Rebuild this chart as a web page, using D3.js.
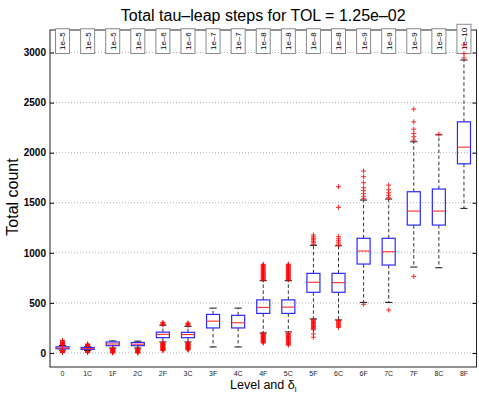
<!DOCTYPE html>
<html>
<head>
<meta charset="utf-8">
<script src="https://cdn.jsdelivr.net/npm/d3@7"></script>
<style>
body { margin: 0; background: #fff; }
svg { font-family: "Liberation Sans", Arial, Helvetica, sans-serif; }
</style>
</head>
<body>
<div id="chart"></div>
<script>
// values
var categories = ["0", "1C", "1F", "2C", "2F", "3C", "3F", "4C", "4F", "5C", "5F", "6C", "6F", "7C", "7F", "8C", "8F"];
var tolLabels = ["1e\u20135", "1e\u20135", "1e\u20135", "1e\u20135", "1e\u20136", "1e\u20136", "1e\u20137", "1e\u20137",
    "1e\u20138", "1e\u20138", "1e\u20138", "1e\u20138", "1e\u20139", "1e\u20139", "1e\u20139", "1e\u20139", "1e\u201310"];
var whiskerLow = [30, 25, 50, 50, 110, 110, 60, 60, 200, 210, 340, 330, 505, 505, 858, 851, 1444];
var quart1 = [42, 36, 73, 73, 153, 153, 250, 250, 395, 395, 606, 606, 888, 878, 1277, 1277, 1889];
var medians = [50, 43, 90, 88, 186, 184, 318, 302, 455, 458, 706, 702, 1018, 1011, 1417, 1417, 2055];
var quart3 = [62, 55, 110, 105, 208, 206, 385, 376, 530, 530, 795, 795, 1145, 1145, 1610, 1637, 2308];
var whiskerHigh = [75, 62, 120, 118, 277, 266, 448, 448, 722, 722, 1075, 1070, 1527, 1537, 2109, 2178, 2925];
var outliers = [
    [5, 10, 15, 18, 22, 25, 80, 85, 90, 95, 100, 105, 110, 118, 125],
    [5, 10, 14, 18, 68, 72, 76, 80, 85, 90],
    [0, 5, 10, 15, 20, 25, 30, 35, 40, 45],
    [0, 5, 10, 15, 20, 25, 30, 35, 40, 45],
    [25, 30, 35, 40, 45, 50, 55, 60, 65, 70, 75, 80, 85, 90, 95, 100, 282, 290, 298, 305],
    [30, 35, 40, 45, 50, 55, 60, 65, 70, 75, 80, 85, 90, 95, 100, 276, 284, 292, 300],
    [],
    [],
    [100, 106, 112, 118, 124, 130, 136, 142, 148, 154, 160, 166, 172, 178, 184, 190, 196,
        728, 735, 742, 750, 757, 765, 772, 780, 787, 795, 802, 810, 817, 825, 832, 840, 847, 855, 862, 870, 877, 885],
    [78, 86, 95, 104, 112, 120, 128, 136, 144, 150, 158, 165, 172, 180, 188, 195,
        730, 738, 745, 752, 760, 768, 775, 782, 790, 798, 805, 812, 820, 828, 835, 842, 850, 858, 865, 872, 880, 886],
    [157, 190, 232, 240, 248, 256, 264, 272, 280, 288, 296, 304, 312, 320, 328, 335,
        1085, 1100, 1115, 1130, 1145, 1160, 1178],
    [256, 266, 276, 286, 296, 306, 316, 324, 1080, 1100, 1120, 1140, 1161, 1454, 1660],
    [486, 1540, 1560, 1590, 1620, 1650, 1700, 1760, 1816],
    [429, 1550, 1575, 1600, 1630, 1676],
    [765, 2126, 2159, 2192, 2235, 2308, 2435],
    [2185],
    [2945, 2990, 3075]
];
var yTicks = [0, 500, 1000, 1500, 2000, 2500, 3000];

var width = 479, height = 395;
var margin = {top: 30, right: 2.5, bottom: 28, left: 50};
var plotRight = width - margin.right;
var plotBottom = height - margin.bottom;

var svg = d3.select('#chart')
    .append('svg')
    .attr('width', width)
    .attr('height', height);

var xScale = d3.scaleBand()
    .domain(categories)
    .range([margin.left, plotRight])
    .padding(0);

var yScale = d3.scaleLinear()
    .domain([-140, 3225])
    .range([plotBottom, margin.top]);

// dotted gridlines
svg.append('g')
    .selectAll('line')
    .data(yTicks)
    .enter()
    .append('line')
    .attr('x1', margin.left)
    .attr('x2', plotRight)
    .attr('y1', d => yScale(d))
    .attr('y2', d => yScale(d))
    .attr('stroke', '#b0b0b0')
    .attr('stroke-dasharray', '1,2');

// axes: left with labels, right ticks only, ticks pointing inward
var yAxis = svg.append('g')
    .attr('transform', `translate(${margin.left},0)`)
    .call(d3.axisLeft(yScale).tickValues(yTicks).tickSize(-4).tickPadding(4).tickFormat(d3.format('d')));
yAxis.select('.domain').remove();
yAxis.selectAll('text')
    .style('font-size', '10px')
    .style('font-weight', 'bold')
    .attr('fill', '#000');

var yAxisR = svg.append('g')
    .attr('transform', `translate(${plotRight},0)`)
    .call(d3.axisRight(yScale).tickValues(yTicks).tickSize(-4).tickFormat(''));
yAxisR.select('.domain').remove();

var xAxis = svg.append('g')
    .attr('transform', `translate(0,${plotBottom})`)
    .call(d3.axisBottom(xScale).tickSize(0).tickPadding(4));
xAxis.select('.domain').remove();
xAxis.selectAll('text')
    .style('font-size', '7px')
    .attr('fill', '#222');

// frame
svg.append('rect')
    .attr('x', margin.left)
    .attr('y', margin.top)
    .attr('width', plotRight - margin.left)
    .attr('height', plotBottom - margin.top)
    .attr('fill', 'none')
    .attr('stroke', '#222')
    .attr('stroke-width', 1);

// tolerance labels at the top
var labelBottom = yScale(3000) + 1;
categories.forEach(function (c, i) {
    var xc = xScale(c) + xScale.bandwidth() / 2;
    var g = svg.append('g');
    var rect = g.append('rect');
    var t = g.append('text')
        .attr('text-anchor', 'middle')
        .style('font-size', '8px')
        .text(tolLabels[i]);
    var len = t.node().getComputedTextLength();
    var h = len + 7;
    var yc = labelBottom - h / 2;
    t.attr('transform', `translate(${xc + 2.9},${yc}) rotate(-90)`);
    rect.attr('x', xc - 7)
        .attr('y', labelBottom - h)
        .attr('width', 14)
        .attr('height', h)
        .attr('fill', '#fff')
        .attr('stroke', '#888')
        .attr('stroke-width', 1);
});

// boxplots
var bw = xScale.bandwidth() * 0.52;
var capW = bw * 0.55;
categories.forEach(function (c, i) {
    var xc = xScale(c) + xScale.bandwidth() / 2;
    var g = svg.append('g');

    // dashed whiskers
    g.append('line')
        .attr('x1', xc).attr('x2', xc)
        .attr('y1', yScale(quart3[i])).attr('y2', yScale(whiskerHigh[i]))
        .attr('stroke', '#333').attr('stroke-dasharray', '3.5,2.5');
    g.append('line')
        .attr('x1', xc).attr('x2', xc)
        .attr('y1', yScale(quart1[i])).attr('y2', yScale(whiskerLow[i]))
        .attr('stroke', '#333').attr('stroke-dasharray', '3.5,2.5');
    [whiskerLow[i], whiskerHigh[i]].forEach(function (v) {
        g.append('line')
            .attr('x1', xc - capW / 2).attr('x2', xc + capW / 2)
            .attr('y1', yScale(v)).attr('y2', yScale(v))
            .attr('stroke', '#111');
    });

    // box and median
    g.append('rect')
        .attr('x', xc - bw / 2)
        .attr('y', yScale(quart3[i]))
        .attr('width', bw)
        .attr('height', yScale(quart1[i]) - yScale(quart3[i]))
        .attr('fill', 'none')
        .attr('stroke', '#2a2aff')
        .attr('stroke-width', 1.2);
    g.append('line')
        .attr('x1', xc - bw / 2).attr('x2', xc + bw / 2)
        .attr('y1', yScale(medians[i])).attr('y2', yScale(medians[i]))
        .attr('stroke', '#ff2a2a').attr('stroke-width', 1.1);

    // outliers as red plus signs
    g.selectAll('.out').data(outliers[i])
        .enter()
        .append('path')
        .attr('class', 'out')
        .attr('d', d => `M${xc - 2.5},${yScale(d)}h5M${xc},${yScale(d) - 2.5}v5`)
        .attr('stroke', '#ff0000')
        .attr('stroke-width', 1)
        .attr('opacity', 0.85);
});

// title and axis labels
var midX = (margin.left + plotRight) / 2;
svg.append('text')
    .attr('x', midX)
    .attr('y', 21)
    .attr('text-anchor', 'middle')
    .style('font-size', '16px')
    .text('Total tau\u2013leap steps for TOL = 1.25e\u201302');

svg.append('text')
    .attr('transform', `translate(18,197) rotate(-90)`)
    .attr('text-anchor', 'middle')
    .style('font-size', '16px')
    .text('Total count');

var xl = svg.append('text')
    .attr('x', midX)
    .attr('y', 388.5)
    .attr('text-anchor', 'middle')
    .style('font-size', '12.5px')
    .text('Level and \u03b4');
xl.append('tspan')
    .attr('dy', 3)
    .style('font-size', '8px')
    .text('l');
</script>
</body>
</html>
